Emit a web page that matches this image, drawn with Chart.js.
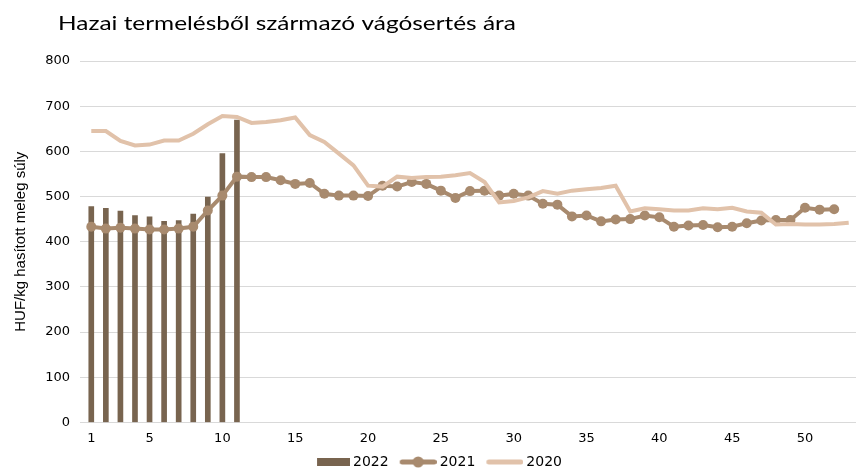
<!DOCTYPE html>
<html>
<head>
<meta charset="utf-8">
<script src="https://cdn.jsdelivr.net/npm/chart.js@4/dist/chart.umd.min.js"></script>
<style>
html,body{margin:0;padding:0;background:#fff;}
#wrap{position:relative;width:861px;height:470px;}
</style>
</head>
<body>
<div id="wrap"><canvas id="c" width="861" height="470"></canvas></div>
<script>
const chartTitle = "Hazai termelésből származó vágósertés ára";
const yAxisTitle = "HUF/kg hasított meleg súly";
const weeks = ["1","2","3","4","5","6","7","8","9","10","11","12","13","14","15","16","17","18","19","20","21","22","23","24","25","26","27","28","29","30","31","32","33","34","35","36","37","38","39","40","41","42","43","44","45","46","47","48","49","50","51","52","53"];
const shownWeekLabels = ["1","5","10","15","20","25","30","35","40","45","50"];
const yTicks = [0,100,200,300,400,500,600,700,800];
const seriesNames = ["2022","2021","2020"];
const values2022 = [478,474,468,458,455,445,447,461,499,595,669];
const values2021 = [433,429,431,429,427,427,429,433,469,502,544,543,543,536,528,530,506,502,502,501,524,522,532,528,513,497,512,513,502,506,502,484,482,456,458,445,449,450,458,454,433,436,437,432,433,441,447,448,448,475,471,472];
const values2020 = [645,645,623,613,615,624,624,639,660,678,676,663,665,669,675,636,621,595,569,524,522,544,541,543,544,547,552,532,487,490,498,512,506,513,516,519,524,467,474,472,469,469,474,472,475,467,464,438,439,438,438,439,442];

const C2022 = '#78644f', C2021 = '#a88a6e', C2020 = '#e1c2aa';

// legend icons: canvas width = box width + 8, icon right-aligned 4px past the box
const BOX_W = 43;
function icon(kind){
  const c = document.createElement('canvas');
  c.width = BOX_W + 8; c.height = 12;
  const x = c.getContext('2d');
  const right = BOX_W + 8;
  if (kind === 'bar'){
    x.fillStyle = C2022; x.fillRect(right - 33, 2, 33, 8);
  } else {
    const col = kind === 'm' ? C2021 : C2020;
    x.strokeStyle = col; x.lineWidth = 5; x.lineCap = 'round';
    x.beginPath(); x.moveTo(right - 37 + 2.5, 6); x.lineTo(right - 2.5, 6); x.stroke();
    if (kind === 'm'){ x.fillStyle = col; x.beginPath(); x.arc(right - 18.5, 6, 5.5, 0, Math.PI*2); x.fill(); }
  }
  return c;
}
const icons = [icon('bar'), icon('m'), icon('l')];

const titlePlugin = {
  id: 'chartTitleText',
  afterDraw(chart){
    const ctx = chart.ctx;
    ctx.save();
    ctx.fillStyle = '#000';
    ctx.font = '20px Lato';
    ctx.textBaseline = 'alphabetic';
    ctx.textAlign = 'left';
    ctx.translate(58, 30);
    ctx.scale(1.22, 1);
    ctx.fillText(chartTitle, 0, 0);
    ctx.restore();
  }
};

new Chart(document.getElementById('c'), {
  data: {
    labels: weeks,
    datasets: [
      {type:'bar', label: seriesNames[0], data: values2022, backgroundColor: C2022, barThickness: 5, order: 2},
      {type:'line', label: seriesNames[1], data: values2021, borderColor: C2021, backgroundColor: C2021,
       borderWidth: 4, pointRadius: 5, pointHoverRadius: 5, pointBorderWidth: 0, pointBackgroundColor: C2021, tension: 0, order: 1},
      {type:'line', label: seriesNames[2], data: values2020, borderColor: C2020, backgroundColor: C2020,
       borderWidth: 4, pointRadius: 0, tension: 0, order: 0}
    ]
  },
  options: {
    responsive: false,
    animation: false,
    layout: {padding: {top: 61, left: 4, right: 0, bottom: -9}},
    scales: {
      x: {
        type: 'category',
        offset: true,
        grid: {display: false, drawTicks: false},
        border: {display: false},
        ticks: {
          autoSkip: false, maxRotation: 0, padding: 8, color: '#000',
          font: {family: 'DejaVu Sans', size: 13},
          callback(v){ const l = this.getLabelForValue(v); return shownWeekLabels.includes(l) ? l : ''; }
        }
      },
      y: {
        min: yTicks[0], max: yTicks[yTicks.length-1],
        afterFit(s){ s.width = 80; },
        afterBuildTicks(s){ s.ticks = yTicks.map(v => ({value: v})); },
        grid: {color: '#d9d9d9', lineWidth: 1, tickLength: 4, drawTicks: true},
        border: {display: false},
        ticks: {padding: 10, color: '#000', font: {family: 'DejaVu Sans', size: 13}},
        title: {display: true, text: yAxisTitle, color: '#000', padding: {top: 8, bottom: 0},
                font: {family: 'Liberation Sans', size: 15}}
      }
    },
    plugins: {
      tooltip: {enabled: false},
      legend: {
        position: 'bottom',
        labels: {
          usePointStyle: true, pointStyleWidth: BOX_W, boxHeight: 12, padding: 1,
          color: '#000', font: {family: 'DejaVu Sans', size: 14},
          generateLabels(chart){
            return chart.data.datasets.map((ds, i) => ({
              text: ds.label, pointStyle: icons[i], datasetIndex: i,
              fillStyle: 'rgba(0,0,0,0)', strokeStyle: 'rgba(0,0,0,0)', lineWidth: 0, hidden: false, fontColor: '#000'
            }));
          }
        }
      }
    }
  },
  plugins: [titlePlugin]
});
</script>
</body>
</html>
